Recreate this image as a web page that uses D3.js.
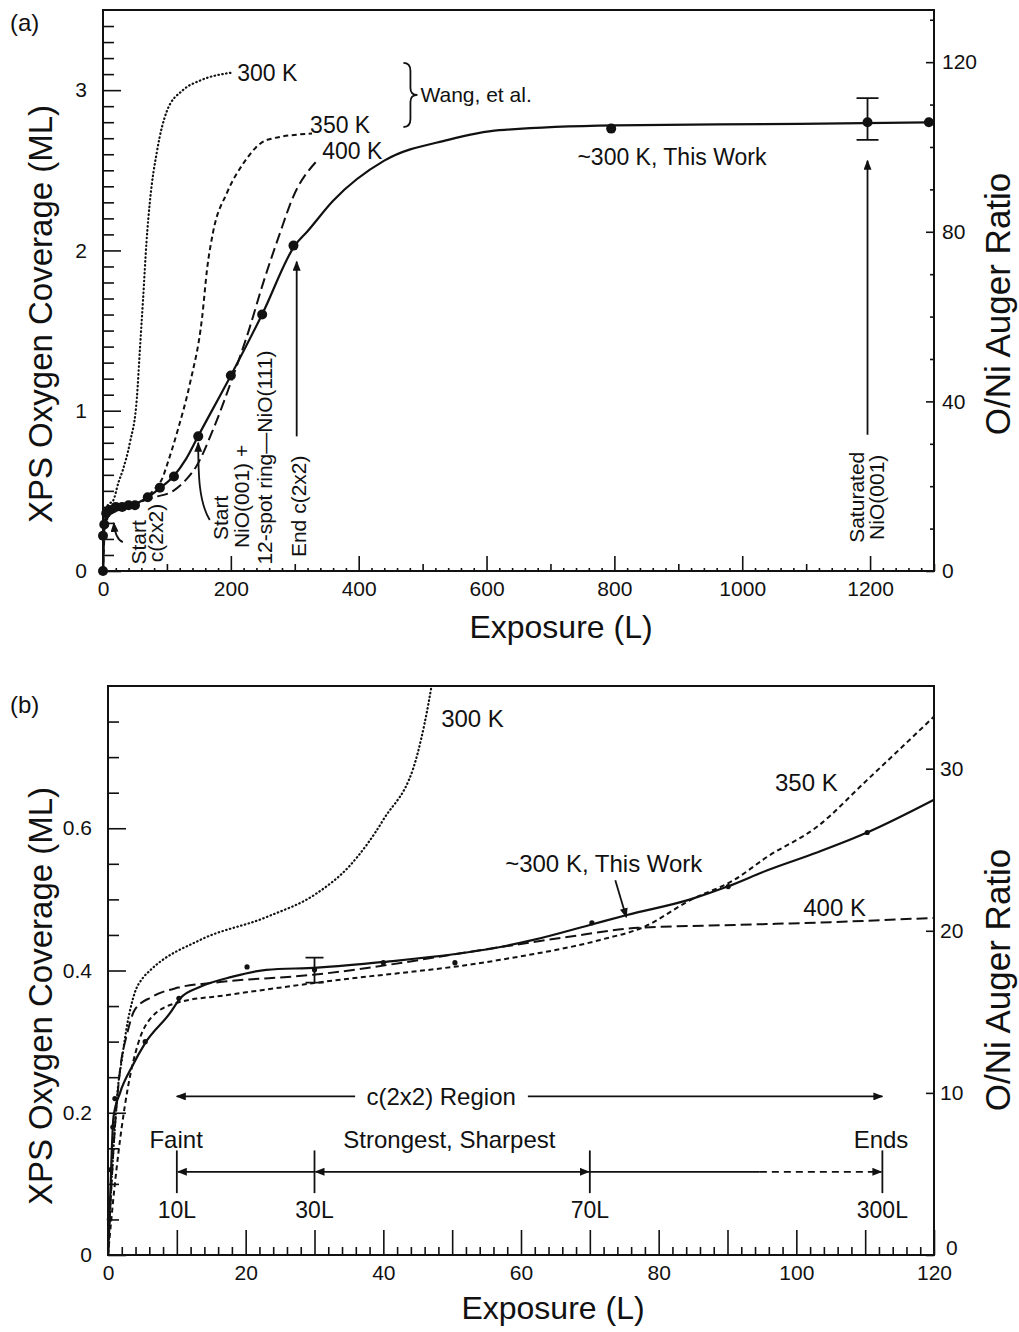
<!DOCTYPE html>
<html>
<head>
<meta charset="utf-8">
<script src="https://cdn.jsdelivr.net/npm/d3@7"></script>
<style>
  body { margin: 0; background: #fff; }
  text { font-family: "Liberation Sans", Arial, Helvetica, sans-serif; fill: #111; }
  .frame { fill: none; stroke: #111; stroke-width: 2; }
  .tick line { stroke: #111; stroke-width: 1.6; }
  .curve { fill: none; stroke: #111; stroke-width: 2; }
  .k300 { stroke-dasharray: 0.5 3.4; stroke-linecap: round; stroke-width: 2.2; }
  .k350 { stroke-dasharray: 5 3.5; }
  .k400 { stroke-dasharray: 11 5; }
  .work { stroke-width: 2.2; }
  .note { fill: none; stroke: #111; stroke-width: 1.8; }
</style>
</head>
<body>
<div id="wrapper"></div>
<script>

// ---- data, panel (a): exposure (L) vs coverage (ML) ----
const a300K = [[0, 0], [1, 0.25], [3, 0.38], [10, 0.42], [16, 0.44], [24, 0.55], [31, 0.63], [42, 0.8],
  [53, 1.08], [58, 1.4], [62.6, 1.69], [68, 2.05], [73.5, 2.31], [84.5, 2.62], [100, 2.87], [125, 3.0],
  [152, 3.06], [203, 3.11]];
const a350K = [[0, 0], [2, 0.2], [5, 0.3], [10, 0.35], [30, 0.385], [53, 0.42], [69, 0.46], [78, 0.5],
  [94, 0.59], [100, 0.66], [117, 0.88], [136, 1.17], [155, 1.58], [163, 1.89], [172, 2.11], [194, 2.36],
  [219, 2.54], [257, 2.69], [327, 2.73]];
const a400K = [[0, 0], [2, 0.28], [5, 0.35], [10, 0.38], [30, 0.4], [57, 0.43], [80, 0.46], [110, 0.5],
  [130, 0.57], [147, 0.66], [172, 0.88], [203, 1.21], [228, 1.5], [250, 1.79], [277, 2.11], [297, 2.33],
  [335, 2.56]];
const aWorkCurve = [[0, 0], [0.3, 0.1], [1, 0.22], [3, 0.28], [5, 0.32], [10, 0.37], [20, 0.4], [30, 0.404],
  [57, 0.43], [70, 0.46], [90, 0.52], [110, 0.59], [130, 0.7], [150, 0.85], [200, 1.22], [250, 1.61],
  [300, 2.03], [320, 2.12], [360, 2.31], [440, 2.56], [540, 2.69], [620, 2.75], [800, 2.78], [1090, 2.79],
  [1300, 2.8]];
const aWorkPoints = [[0, 0], [0, 0.22], [2, 0.29], [5, 0.36], [10, 0.38], [20, 0.4], [30, 0.4], [40, 0.41],
  [50, 0.41], [70, 0.46], [89, 0.52], [111, 0.59], [149, 0.84], [200, 1.22], [249, 1.6], [298, 2.03],
  [795, 2.76], [1196, 2.8], [1292, 2.8]];
const aErrorBar = [1196, 2.69, 2.95]; // x, low, high

// ---- data, panel (b): zoom on 0-120 L ----
const b300K = [[0, 0], [0.5, 0.1], [1, 0.18], [1.45, 0.236], [2, 0.274], [2.9, 0.33], [3.9, 0.369],
  [5.1, 0.39], [6.1, 0.4], [13.4, 0.443], [23, 0.475], [30.4, 0.509], [35, 0.546], [40, 0.612],
  [45, 0.706], [47, 0.8], [48.5, 0.9]];
const b350K = [[0, 0], [1, 0.1], [2, 0.18], [2.9, 0.236], [4.4, 0.298], [6.4, 0.335], [10.2, 0.355],
  [17, 0.365], [30.4, 0.383], [57, 0.415], [71.5, 0.443], [77.8, 0.461], [84.6, 0.499], [90.9, 0.527],
  [95.8, 0.56], [103, 0.602], [110.3, 0.668], [120, 0.757]];
const b400K = [[0, 0], [0.8, 0.15], [1.75, 0.26], [2.8, 0.312], [3.9, 0.345], [6.4, 0.363], [10.2, 0.376],
  [15.5, 0.383], [29.8, 0.394], [57, 0.433], [66.7, 0.447], [77, 0.46], [91, 0.464], [105, 0.468],
  [120, 0.474]];
const bWorkCurve = [[0, 0], [0.3, 0.077], [0.8, 0.194], [1.75, 0.228], [3.5, 0.265], [5.4, 0.298],
  [9, 0.34], [10.5, 0.361], [13.4, 0.377], [18, 0.391], [23, 0.401], [30.4, 0.404], [40, 0.412],
  [57, 0.433], [61.8, 0.443], [70, 0.464], [75.4, 0.478], [84.6, 0.5], [90, 0.518], [95.8, 0.541],
  [103, 0.566], [110.3, 0.594], [120, 0.64]];
const bWorkPoints = [[0.2, 0.05], [0.4, 0.12], [0.7, 0.18], [1, 0.22], [5.4, 0.3], [10.3, 0.361],
  [20.2, 0.405], [30, 0.401], [40, 0.411], [50.4, 0.411], [70.3, 0.467], [90.1, 0.518], [110.3, 0.594]];
const bErrorBar = [30, 0.383, 0.418];

// LEED stages along the c(2x2) row ("300L" sits at the right end, axis is not to scale there)
const stageNames = ["Faint", "Strongest, Sharpest", "Ends"];
const stageMarks = ["10L", "30L", "70L", "300L"];
const stageMarkX = [10, 30, 70, 112.5];

// tick values
const aXTicks = [0, 200, 400, 600, 800, 1000, 1200];
const aYTicks = [0, 1, 2, 3];
const aRTicks = [0, 40, 80, 120];
const bXTicks = [0, 20, 40, 60, 80, 100, 120];
const bYTicks = [0, 0.2, 0.4, 0.6];
const bRTicks = [0, 10, 20, 30];


function drawChart() {

  const width = 1019;
  const height = 1332;

  const svg = d3.select("#wrapper")
    .append("svg")
      .attr("width", width)
      .attr("height", height);

  svg.append("rect").attr("width", width).attr("height", height).attr("fill", "#fff");

  const defs = svg.append("defs");
  defs.append("marker")
      .attr("id", "arrow")
      .attr("viewBox", "0 0 10 8")
      .attr("refX", 9)
      .attr("refY", 4)
      .attr("markerWidth", 10)
      .attr("markerHeight", 8)
      .attr("markerUnits", "userSpaceOnUse")
      .attr("orient", "auto-start-reverse")
    .append("path")
      .attr("d", "M0,0L10,4L0,8Z")
      .attr("fill", "#111");

  // helper for plain text
  function label(g, txt, x, y, opts = {}) {
    const t = g.append("text")
        .attr("x", x)
        .attr("y", y)
        .attr("font-size", opts.size || 22)
        .attr("text-anchor", opts.anchor || "start")
        .attr("dominant-baseline", opts.baseline || "central")
        .text(txt);
    if (opts.rotate) t.attr("transform", `rotate(-90,${x},${y})`);
    return t;
  }

  function removeDomain(g) { g.select(".domain").remove(); }
  const plain = d => String(d);

  // ============ panel (a) ============
  const A = { left: 103, right: 934, top: 10, bottom: 571 };
  const xA = d3.scaleLinear().domain([0, 1300]).range([A.left, A.right]);
  const yA = d3.scaleLinear().domain([0, 3.5]).range([A.bottom, A.top]);
  const yAR = d3.scaleLinear().domain([0, 132.3]).range([A.bottom, A.top]);

  const ga = svg.append("g");

  // minor / medium ticks first
  ga.append("g")
      .attr("transform", `translate(0,${A.bottom})`)
      .call(d3.axisBottom(xA).tickValues(d3.range(0, 1301, 20).filter(d => d % 100)).tickSize(-3).tickFormat(""))
      .call(removeDomain);
  ga.append("g")
      .attr("transform", `translate(0,${A.bottom})`)
      .call(d3.axisBottom(xA).tickValues(d3.range(100, 1301, 200)).tickSize(-7).tickFormat(""))
      .call(removeDomain);
  ga.append("g")
      .attr("transform", `translate(0,${A.bottom})`)
      .call(d3.axisBottom(xA).tickValues(aXTicks).tickSize(-15).tickPadding(10).tickFormat(plain))
      .call(removeDomain)
      .selectAll("text").attr("font-size", 21).attr("fill", "#111");

  ga.append("g")
      .attr("transform", `translate(${A.left},0)`)
      .call(d3.axisLeft(yA).tickValues(d3.range(1, 35).filter(i => i % 10).map(i => i / 10)).tickSize(-11).tickFormat(""))
      .call(removeDomain);
  ga.append("g")
      .attr("transform", `translate(${A.left},0)`)
      .call(d3.axisLeft(yA).tickValues(aYTicks).tickSize(-18).tickPadding(16).tickFormat(plain))
      .call(removeDomain)
      .selectAll("text").attr("font-size", 21).attr("fill", "#111");

  ga.append("g")
      .attr("transform", `translate(${A.right},0)`)
      .call(d3.axisRight(yAR).tickValues(d3.range(10, 131, 10).filter(d => d % 40)).tickSize(-4).tickFormat(""))
      .call(removeDomain);
  ga.append("g")
      .attr("transform", `translate(${A.right},0)`)
      .call(d3.axisRight(yAR).tickValues(aRTicks).tickSize(-8).tickPadding(8).tickFormat(plain))
      .call(removeDomain)
      .selectAll("text").attr("font-size", 21).attr("fill", "#111");

  ga.append("rect")
      .attr("class", "frame")
      .attr("x", A.left).attr("y", A.top)
      .attr("width", A.right - A.left).attr("height", A.bottom - A.top);

  const lineA = d3.line()
    .x(d => xA(d[0]))
    .y(d => yA(d[1]))
    .curve(d3.curveMonotoneX);

  ga.append("path").datum(a300K).attr("class", "curve k300").attr("d", lineA);
  ga.append("path").datum(a350K).attr("class", "curve k350").attr("d", lineA);
  ga.append("path").datum(a400K).attr("class", "curve k400").attr("d", lineA);
  ga.append("path").datum(aWorkCurve).attr("class", "curve work").attr("d", lineA);

  ga.selectAll(".pointA")
    .data(aWorkPoints)
    .join("circle")
      .attr("class", "pointA")
      .attr("cx", d => xA(d[0]))
      .attr("cy", d => yA(d[1]))
      .attr("r", 5)
      .attr("fill", "#111");

  // error bar on the saturated point
  const [ebx, eblo, ebhi] = aErrorBar;
  ga.append("path")
      .attr("class", "note")
      .attr("d", `M${xA(ebx)},${yA(eblo)}V${yA(ebhi)}` +
                 `M${xA(ebx) - 11},${yA(eblo)}h22M${xA(ebx) - 11},${yA(ebhi)}h22`);

  // curve labels
  label(ga, "300 K", xA(210), yA(3.11), { size: 23 });
  label(ga, "350 K", xA(324), yA(2.785), { size: 23 });
  label(ga, "400 K", xA(343), yA(2.62), { size: 23 });
  label(ga, "~300 K, This Work", xA(890), yA(2.585), { size: 23, anchor: "middle" });

  // brace for Wang, et al.
  const bx = xA(470), bTop = yA(3.17), bBot = yA(2.77), bw = 14, bMid = (bTop + bBot) / 2;
  ga.append("path")
      .attr("class", "note")
      .attr("stroke-width", 2.4)
      .attr("d", `M${bx},${bTop}Q${bx + bw / 2},${bTop} ${bx + bw / 2},${bTop + 8}` +
                 `L${bx + bw / 2},${bMid - 7}Q${bx + bw / 2},${bMid} ${bx + bw},${bMid}` +
                 `Q${bx + bw / 2},${bMid} ${bx + bw / 2},${bMid + 7}` +
                 `L${bx + bw / 2},${bBot - 8}Q${bx + bw / 2},${bBot} ${bx},${bBot}`);
  label(ga, "Wang, et al.", bx + bw + 3, bMid, { size: 21 });

  // vertical notes
  label(ga, "Start", xA(67), yA(0.04), { size: 21, rotate: true, baseline: "auto" });
  label(ga, "c(2x2)", xA(94), yA(0.055), { size: 21, rotate: true, baseline: "auto" });
  ga.append("path")
      .attr("class", "note")
      .attr("stroke-width", 1.5)
      .attr("marker-end", "url(#arrow)")
      .attr("d", `M${xA(31)},${yA(0.18)}Q${xA(19)},${yA(0.2)} ${xA(17)},${yA(0.3)}`);

  label(ga, "Start", xA(195), yA(0.193), { size: 21, rotate: true, baseline: "auto" });
  label(ga, "NiO(001) +", xA(229), yA(0.143), { size: 21, rotate: true, baseline: "auto" });
  label(ga, "12-spot ring\u2014NiO(111)", xA(264), yA(0.04), { size: 21, rotate: true, baseline: "auto" });
  ga.append("path")
      .attr("class", "note")
      .attr("stroke-width", 1.5)
      .attr("marker-end", "url(#arrow)")
      .attr("d", `M${xA(167)},${yA(0.318)}C${xA(150)},${yA(0.43)} ${xA(149)},${yA(0.6)} ${xA(149)},${yA(0.8)}`);

  label(ga, "End c(2x2)", xA(317), yA(0.087), { size: 21, rotate: true, baseline: "auto" });
  ga.append("line")
      .attr("class", "note")
      .attr("marker-end", "url(#arrow)")
      .attr("x1", xA(303)).attr("x2", xA(303))
      .attr("y1", yA(0.84)).attr("y2", yA(1.93));

  label(ga, "Saturated", xA(1191), yA(0.46), { size: 21, rotate: true, baseline: "auto", anchor: "middle" });
  label(ga, "NiO(001)", xA(1222), yA(0.46), { size: 21, rotate: true, baseline: "auto", anchor: "middle" });
  ga.append("line")
      .attr("class", "note")
      .attr("marker-end", "url(#arrow)")
      .attr("x1", xA(1196)).attr("x2", xA(1196))
      .attr("y1", yA(0.85)).attr("y2", yA(2.56));

  // axis titles and panel tag
  label(ga, "(a)", 10, 22, { size: 24 });
  label(ga, "Exposure (L)", 561, 627, { size: 32, anchor: "middle" });
  label(ga, "XPS Oxygen Coverage (ML)", 40, 314, { size: 33, anchor: "middle", rotate: true });
  label(ga, "O/Ni Auger Ratio", 997, 304, { size: 35, anchor: "middle", rotate: true });


  // ============ panel (b) ============
  const B = { left: 108, right: 934, top: 686, bottom: 1255 };
  const xB = d3.scaleLinear().domain([0, 120]).range([B.left, B.right]);
  const yB = d3.scaleLinear().domain([0, 0.8]).range([B.bottom, B.top]);
  const yBR = d3.scaleLinear().domain([0, 35.1]).range([B.bottom, B.top]);

  const gb = svg.append("g");

  defs.append("clipPath").attr("id", "clipB")
    .append("rect")
      .attr("x", B.left).attr("y", B.top)
      .attr("width", B.right - B.left).attr("height", B.bottom - B.top);

  gb.append("g")
      .attr("transform", `translate(0,${B.bottom})`)
      .call(d3.axisBottom(xB).tickValues(d3.range(0, 121, 2).filter(d => d % 10)).tickSize(-8).tickFormat(""))
      .call(removeDomain);
  gb.append("g")
      .attr("transform", `translate(0,${B.bottom})`)
      .call(d3.axisBottom(xB).tickValues(d3.range(10, 120, 20)).tickSize(-25).tickFormat(""))
      .call(removeDomain);
  gb.append("g")
      .attr("transform", `translate(0,${B.bottom})`)
      .call(d3.axisBottom(xB).tickValues(bXTicks).tickSize(-25).tickPadding(10).tickFormat(plain))
      .call(removeDomain)
      .selectAll("text").attr("font-size", 21).attr("fill", "#111");

  gb.append("g")
      .attr("transform", `translate(${B.left},0)`)
      .call(d3.axisLeft(yB).tickValues(d3.range(1, 16).filter(i => i % 4).map(i => i * 0.05)).tickSize(-11).tickFormat(""))
      .call(removeDomain);
  gb.append("g")
      .attr("transform", `translate(${B.left},0)`)
      .call(d3.axisLeft(yB).tickValues(bYTicks).tickSize(-18).tickPadding(16)
        .tickFormat(d => d === 0 ? "0" : d3.format(".1f")(d)))
      .call(removeDomain)
      .selectAll("text").attr("font-size", 21).attr("fill", "#111");

  gb.append("g")
      .attr("transform", `translate(${B.right},0)`)
      .call(d3.axisRight(yBR).tickValues(bRTicks).tickSize(-8).tickPadding(6).tickFormat(plain))
      .call(removeDomain)
      .selectAll("text")
        .attr("font-size", 21)
        .attr("fill", "#111")
        .attr("transform", d => d === 0 ? "translate(6,-7)" : null);

  gb.append("rect")
      .attr("class", "frame")
      .attr("x", B.left).attr("y", B.top)
      .attr("width", B.right - B.left).attr("height", B.bottom - B.top);

  const lineB = d3.line()
    .x(d => xB(d[0]))
    .y(d => yB(d[1]))
    .curve(d3.curveMonotoneX);

  const curvesB = gb.append("g").attr("clip-path", "url(#clipB)");
  curvesB.append("path").datum(b300K).attr("class", "curve k300").attr("d", lineB);
  curvesB.append("path").datum(b350K).attr("class", "curve k350").attr("d", lineB);
  curvesB.append("path").datum(b400K).attr("class", "curve k400").attr("d", lineB);
  curvesB.append("path").datum(bWorkCurve).attr("class", "curve work").attr("d", lineB);

  gb.selectAll(".pointB")
    .data(bWorkPoints)
    .join("circle")
      .attr("class", "pointB")
      .attr("cx", d => xB(d[0]))
      .attr("cy", d => yB(d[1]))
      .attr("r", 2.6)
      .attr("fill", "#111");

  const [ebxB, eblB, ebhB] = bErrorBar;
  gb.append("path")
      .attr("class", "note")
      .attr("d", `M${xB(ebxB)},${yB(eblB)}V${yB(ebhB)}` +
                 `M${xB(ebxB) - 9},${yB(eblB)}h18M${xB(ebxB) - 9},${yB(ebhB)}h18`);

  label(gb, "300 K", xB(48.4), yB(0.755), { size: 24 });
  label(gb, "350 K", xB(96.9), yB(0.664), { size: 24 });
  label(gb, "~300 K, This Work", xB(57.7), yB(0.55), { size: 24 });
  label(gb, "400 K", xB(101), yB(0.489), { size: 24 });
  gb.append("line")
      .attr("class", "note")
      .attr("stroke-width", 1.5)
      .attr("marker-end", "url(#arrow)")
      .attr("x1", xB(73.7)).attr("y1", yB(0.527))
      .attr("x2", xB(75.3)).attr("y2", yB(0.475));

  // c(2x2) region arrow
  const regionY = yB(0.223);
  gb.append("line")
      .attr("class", "note")
      .attr("marker-start", "url(#arrow)")
      .attr("x1", xB(stageMarkX[0])).attr("x2", xB(35.9))
      .attr("y1", regionY).attr("y2", regionY);
  gb.append("line")
      .attr("class", "note")
      .attr("marker-end", "url(#arrow)")
      .attr("x1", xB(61)).attr("x2", xB(stageMarkX[3]))
      .attr("y1", regionY).attr("y2", regionY);
  label(gb, "c(2x2) Region", xB(48.4), regionY, { size: 24, anchor: "middle" });

  // stage row
  const rowY = yB(0.117);
  gb.selectAll(".stage-bar")
    .data(stageMarkX)
    .join("line")
      .attr("class", "note stage-bar")
      .attr("x1", d => xB(d)).attr("x2", d => xB(d))
      .attr("y1", yB(0.147)).attr("y2", yB(0.087));
  gb.append("line")
      .attr("class", "note")
      .attr("marker-start", "url(#arrow)")
      .attr("x1", xB(stageMarkX[0]) + 1).attr("x2", xB(stageMarkX[1]))
      .attr("y1", rowY).attr("y2", rowY);
  gb.append("line")
      .attr("class", "note")
      .attr("marker-start", "url(#arrow)")
      .attr("marker-end", "url(#arrow)")
      .attr("x1", xB(stageMarkX[1]) + 1).attr("x2", xB(stageMarkX[2]) - 1)
      .attr("y1", rowY).attr("y2", rowY);
  gb.append("line")
      .attr("class", "note")
      .attr("x1", xB(stageMarkX[2])).attr("x2", xB(94.7))
      .attr("y1", rowY).attr("y2", rowY);
  gb.append("line")
      .attr("class", "note")
      .attr("stroke-dasharray", "7 5")
      .attr("marker-end", "url(#arrow)")
      .attr("x1", xB(94.7)).attr("x2", xB(stageMarkX[3]) - 1)
      .attr("y1", rowY).attr("y2", rowY);

  const stageNameX = [9.9, 49.6, 112.3];
  stageNames.forEach((name, i) => {
    label(gb, name, xB(stageNameX[i]), yB(0.162), { size: 24, anchor: "middle" });
  });
  stageMarks.forEach((name, i) => {
    label(gb, name, xB(stageMarkX[i]), yB(0.063), { size: 23, anchor: "middle" });
  });

  label(gb, "(b)", 10, 704, { size: 24 });
  label(gb, "Exposure (L)", 553, 1308, { size: 32, anchor: "middle" });
  label(gb, "XPS Oxygen Coverage (ML)", 40, 996, { size: 33, anchor: "middle", rotate: true });
  label(gb, "O/Ni Auger Ratio", 997, 980, { size: 35, anchor: "middle", rotate: true });
}
drawChart();

</script>
</body>
</html>
